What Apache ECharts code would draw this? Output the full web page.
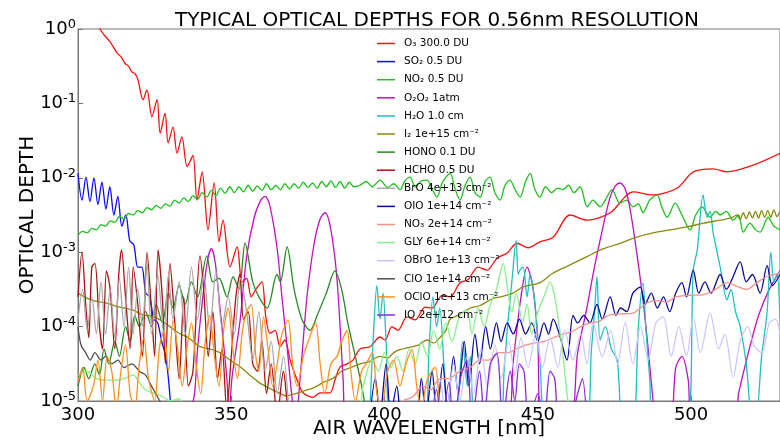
<!DOCTYPE html>
<html>
<head>
<meta charset="utf-8">
<script src="https://cdn.jsdelivr.net/npm/echarts@6/dist/echarts.min.js"></script>
<style>
html, body { margin: 0; background: #fff; }
#main { width: 780px; height: 440px; }
</style>
</head>
<body>
<div id="main"></div>
<script>
// values as [wavelength nm, log10 optical depth]
const o3 = [[306.0,0.1],[307.2,0.0],[308.5,-0.08],[310.4,-0.17],[311.5,-0.24],[312.7,-0.32],[314.0,-0.37],[315.3,-0.46],[316.5,-0.5],[317.6,-0.58],[318.6,-0.6],[319.6,-0.69],[321.2,-0.95],[322.5,-0.82],[324.1,-1.18],[325.8,-0.95],[326.8,-1.4],[328.4,-1.13],[329.4,-1.53],[331.0,-1.32],[332.3,-1.67],[333.9,-1.45],[335.6,-1.85],[337.5,-1.7],[338.8,-2.3],[340.5,-1.92],[342.4,-2.7],[344.4,-2.07],[346.0,-2.86],[347.3,-2.57],[349.6,-3.2],[351.9,-2.93],[353.5,-3.4],[355.0,-3.35],[356.5,-3.6],[358.0,-3.5],[360.0,-3.4],[361.2,-3.85],[362.6,-4.09],[364.3,-4.05],[365.9,-4.27],[367.5,-4.18],[369.2,-4.45],[371.5,-4.72],[373.4,-4.89],[376.7,-4.95],[379.0,-4.89],[382.2,-4.89],[383.8,-4.72],[385.5,-4.54],[387.8,-4.5],[389.7,-4.45],[392.0,-4.3],[395.3,-4.27],[398.5,-4.14],[400.2,-4.18],[402.4,-4.0],[404.4,-4.05],[407.3,-3.87],[410.0,-3.91],[413.2,-3.74],[415.5,-3.75],[418.8,-3.58],[421.4,-3.6],[424.6,-3.41],[427.2,-3.37],[430.5,-3.2],[433.4,-3.24],[436.7,-3.08],[440.0,-3.01],[443.2,-2.88],[446.8,-2.94],[450.7,-2.86],[455.0,-2.8],[460.5,-2.5],[466.1,-2.57],[473.6,-2.47],[481.1,-2.19],[487.6,-2.23],[495.4,-2.14],[500.7,-1.92],[507.2,-1.88],[511.7,-1.92],[520.2,-1.83],[529.0,-1.67]];
const so2 = [[300.0,-1.94],[301.3,-2.3],[302.6,-1.99],[303.9,-2.32],[305.2,-2.0],[306.5,-2.36],[307.8,-2.06],[309.1,-2.42],[310.4,-2.12],[311.7,-2.5],[313.0,-2.25],[314.3,-2.65],[315.6,-2.5],[316.9,-2.85],[318.2,-2.9],[319.5,-3.2],[320.8,-3.2],[322.1,-3.55],[323.4,-3.6],[324.7,-3.9],[326.0,-3.95],[327.3,-4.2],[328.6,-4.4],[329.5,-4.7],[330.3,-5.1]];
const no2 = [[300,-2.77],[301.5,-2.72],[303,-2.74],[304.5,-2.68],[306,-2.7],[307.5,-2.63],[309,-2.65],[310.5,-2.58],[312,-2.6],[313.5,-2.52],[315,-2.55],[316.5,-2.48],[318,-2.5],[319.5,-2.44],[321,-2.47],[322.5,-2.4],[324,-2.43],[325.5,-2.37],[327,-2.41],[328.5,-2.35],[330,-2.38],[331.5,-2.3],[333,-2.34],[334.5,-2.27],[336,-2.32],[337.5,-2.24],[339,-2.29],[340.5,-2.2],[342,-2.26],[343.5,-2.17],[345,-2.24],[346.5,-2.14],[348,-2.21],[349.5,-2.12],[351,-2.2],[352.5,-2.12],[354,-2.19],[355.5,-2.1],[357,-2.18],[358.5,-2.11],[360,-2.17],[361.5,-2.08],[363,-2.16],[364.5,-2.1],[366,-2.16],[367.5,-2.08],[369,-2.15],[370.5,-2.08],[372,-2.14],[373.5,-2.06],[375,-2.13],[376.5,-2.07],[378,-2.14],[379.5,-2.05],[381,-2.12],[382.5,-2.04],[384,-2.13],[385.5,-2.05],[387,-2.14],[388.5,-2.06],[390,-2.12],[392,-2.1],[394,-2.05],[396,-2.12],[398.5,-2.03],[401,-2.13],[403,-2.08],[405.1,-2.16],[406.5,-2.05],[408.3,-1.99],[410,-2.12],[412,-2.04],[413.9,-2.03],[415.5,-2.15],[417.1,-2.26],[419,-2.05],[421.4,-1.94],[423,-2.15],[424.6,-2.3],[426.3,-2.1],[427.9,-1.99],[429.5,-2.2],[431.2,-2.26],[432.8,-2.05],[434.4,-1.99],[436,-2.2],[437.7,-2.3],[439.3,-2.1],[440.9,-2.03],[442.5,-2.15],[444.2,-2.26],[446,-2.05],[447.5,-1.94],[449,-2.15],[450.7,-2.26],[452.5,-2.12],[454.5,-2.2],[456.5,-2.14],[458.2,-2.16],[460,-2.1],[461.8,-2.2],[463.8,-2.12],[466.1,-2.39],[468,-2.3],[470.3,-2.39],[472,-2.3],[474.2,-2.16],[476.8,-2.34],[479,-2.3],[481.1,-2.39],[482.8,-2.35],[484.3,-2.47],[486.5,-2.3],[488.9,-2.23],[490.5,-2.4],[492.2,-2.53],[494.8,-2.34],[497,-2.5],[499.7,-2.7],[501.5,-2.5],[503.6,-2.39],[506.2,-2.53],[508,-2.45],[509.5,-2.5],[511.5,-2.45],[513.7,-2.57],[515.5,-2.5],[517,-2.73],[519.2,-2.61],[521,-2.7],[522.5,-2.73],[525.1,-2.53],[527,-2.65],[529,-2.7]];
const o2o2 = [[336,-5.3],[338,-4.9],[339,-4.3],[341,-3.5],[342.3,-3.1],[343.5,-2.95],[344.8,-3.15],[346.3,-3.74],[348.6,-4.72],[349.3,-5.2],[350.2,-4.7],[352.9,-3.91],[355,-3.06],[357.5,-2.53],[359.5,-2.31],[361,-2.25],[362.5,-2.36],[364.9,-2.93],[366.5,-3.59],[368.2,-4.27],[369.8,-4.95],[371,-5.3],[372.4,-4.72],[374.7,-3.6],[377,-2.89],[379,-2.55],[380.6,-2.47],[382.5,-2.7],[384.5,-3.37],[386.5,-4.72],[387.5,-5.3],[439.5,-5.3],[442,-4.45],[444.5,-3.6],[446.5,-3.2],[448.5,-3.5],[450,-4.2],[451,-5.3],[460,-5.3],[463,-4.35],[466,-3.75],[468,-3.3],[470.3,-2.84],[473.5,-2.27],[475.3,-2.11],[476.8,-2.07],[478.5,-2.15],[480,-2.4],[481.7,-2.84],[484.3,-3.64],[486,-4.3],[487.6,-5.0],[488.5,-5.3],[493,-5.3],[495,-4.55],[497,-4.4],[499,-4.7],[500.5,-5.3],[514,-5.3],[515.5,-4.9],[519,-4.3],[522,-3.85],[525.5,-3.5],[529,-3.25]];
const h2o = [[395,-5.3],[396.5,-4.0],[397.5,-3.45],[398.5,-3.9],[399.5,-3.55],[400.5,-4.2],[402,-5.3],[413,-5.3],[414.5,-4.3],[415.8,-3.6],[417,-4.0],[418,-3.75],[419.5,-4.6],[421,-5.3],[423,-5.3],[425.5,-4.2],[427,-4.8],[428,-4.4],[430,-5.3],[437.5,-5.3],[439,-4.6],[440,-4.05],[441.6,-3.37],[442.9,-2.84],[443.6,-3.3],[444.2,-3.24],[445.2,-3.2],[446.5,-3.6],[447.5,-3.3],[448.5,-3.5],[449.5,-3.9],[450.7,-4.45],[453,-5.3],[465.5,-5.3],[467.5,-4.3],[468.5,-3.8],[469.3,-3.33],[470.3,-4.18],[472,-4.0],[474,-4.3],[475.9,-4.45],[477.8,-5.3],[481,-5.3],[482.8,-4.0],[484.3,-3.41],[485.2,-4.0],[486.5,-4.7],[487.5,-5.3],[498.7,-5.3],[500.7,-3.24],[502,-2.97],[503.9,-2.23],[505.2,-2.53],[506.2,-2.45],[507.2,-2.74],[509.5,-3.2],[511.7,-3.64],[513,-3.5],[514.5,-3.8],[516,-4.0],[518,-4.5],[520,-5.3],[521,-5.3],[523,-4.4],[524.8,-3.8],[526,-3.0],[527,-3.4],[528,-3.3],[529,-3.9]];
const i2 = [[300,-3.55],[303,-3.62],[306,-3.66],[309,-3.68],[312,-3.72],[315,-3.75],[318,-3.78],[321,-3.84],[324,-3.86],[326.8,-3.91],[330,-4.0],[333,-4.09],[336,-4.15],[339.8,-4.27],[343,-4.3],[346.3,-4.35],[349.5,-4.45],[352.9,-4.54],[356,-4.65],[359,-4.75],[362,-4.82],[365,-4.88],[368,-4.93],[371,-4.9],[374,-4.86],[377,-4.82],[380,-4.75],[383,-4.7],[386,-4.6],[389,-4.55],[392,-4.5],[395,-4.47],[398.5,-4.4],[401,-4.42],[403,-4.35],[405,-4.31],[408,-4.28],[411,-4.25],[413.9,-4.18],[416,-4.22],[418,-4.15],[420,-4.05],[421.4,-3.9],[424,-3.85],[428,-3.75],[431,-3.72],[435.4,-3.62],[438,-3.6],[441.9,-3.55],[445,-3.47],[450.7,-3.41],[455,-3.28],[460,-3.18],[466,-3.06],[471,-2.96],[476.8,-2.88],[482,-2.8],[487.6,-2.74],[493,-2.7],[498.7,-2.66],[504,-2.61],[509.5,-2.57],[513,-2.54],[515,-2.5],[516,-2.56],[517,-2.47],[518,-2.55],[519,-2.46],[520,-2.54],[521,-2.45],[522,-2.54],[523,-2.44],[524,-2.53],[525,-2.44],[526,-2.53],[527,-2.43],[528,-2.52],[529,-2.45]];
const hono = [[300,-4.8],[302,-4.55],[303.5,-4.7],[305.5,-4.5],[307,-4.65],[308.5,-4.3],[310,-4.5],[312,-4.2],[313.5,-4.4],[315.5,-4.0],[317,-4.2],[318.5,-3.85],[320,-4.0],[322,-3.8],[324,-4.0],[325.5,-3.7],[327.5,-3.95],[329.5,-3.55],[331,-3.75],[333,-3.45],[335,-3.7],[337,-3.4],[339,-3.6],[342,-3.05],[344,-3.4],[346,-3.35],[348.6,-3.6],[350.6,-3.33],[352.5,-3.5],[354.5,-2.88],[357,-3.4],[359,-3.6],[361.7,-3.75],[364.9,-3.3],[366,-3.4],[368.2,-2.93],[370.5,-3.5],[373,-3.9],[375.7,-4.05],[378,-3.85],[381,-3.55],[383.8,-3.25],[386,-3.5],[388,-3.95],[391,-4.5],[393,-4.9],[394.5,-5.3]];
const hcho = [[300,-3.6],[301.3,-3.0],[302.5,-3.7],[303.5,-4.15],[304.5,-3.2],[305.5,-3.15],[307,-4.0],[308,-4.3],[309.3,-3.25],[310.5,-3.5],[312,-4.3],[313.3,-3.3],[314.2,-2.97],[315.5,-3.6],[317,-4.3],[318,-3.2],[319.5,-3.7],[321,-4.4],[322.5,-3.0],[324,-3.8],[325,-4.4],[326.1,-2.97],[327.5,-3.6],[328.5,-4.5],[330,-3.15],[331.5,-3.9],[333,-4.7],[334.5,-3.6],[336,-4.8],[337.5,-4.6],[339.8,-3.05],[341,-3.5],[342.5,-4.4],[344,-3.8],[345.5,-4.7],[347,-4.3],[348.5,-5.1],[350,-4.4],[351.5,-3.6],[352.8,-3.3],[354,-3.9],[355.5,-3.8],[357,-4.5],[358.5,-4.6],[360,-4.2],[361.5,-4.9],[363,-4.5],[365,-5.2],[367,-4.6],[369,-5.2],[372,-5.3]];
const bro = [[300,-3.9],[301.5,-3.5],[303,-4.05],[304.5,-3.6],[306,-4.1],[307.5,-3.4],[309,-4.1],[310.5,-3.5],[312,-4.15],[313.5,-3.35],[315,-4.0],[316.5,-3.2],[318,-4.1],[319.5,-3.5],[321,-4.0],[322.5,-3.15],[324,-4.1],[326,-3.3],[328,-4.1],[329.5,-3.3],[331,-3.9],[333,-3.4],[335,-4.1],[337,-3.2],[339,-3.9],[341,-3.3],[343,-4.05],[345,-3.25],[347,-4.0],[349,-3.6],[351,-4.1],[353,-3.35],[355,-3.8],[357,-4.45],[359,-3.8],[361,-4.6],[363,-4.2],[365,-4.9],[367,-4.4],[369,-5.3]];
const oio = [[395,-5.3],[397,-4.7],[398.5,-5.2],[400.5,-4.5],[402,-5.2],[404,-4.8],[406,-5.3],[410,-5.3],[412,-4.7],[413.5,-5.2],[415.5,-4.6],[417,-5.2],[419,-4.5],[420.5,-5.1],[422.5,-4.4],[424,-4.9],[426,-4.2],[427.5,-4.8],[429.5,-4.1],[431,-4.5],[433,-4.0],[434.5,-4.3],[436.5,-3.95],[438,-4.2],[440,-3.95],[442,-4.1],[444,-3.9],[446,-4.1],[448,-3.95],[450,-4.2],[452,-3.95],[453.5,-4.1],[455,-3.9],[457,-4.1],[459.5,-4.45],[461.5,-3.85],[463,-3.95],[465,-3.85],[467,-3.95],[469.3,-3.7],[471,-3.9],[473.6,-3.6],[475.5,-3.85],[477,-3.75],[479,-3.8],[481,-3.55],[483.4,-3.47],[485,-3.7],[487,-3.55],[489,-3.75],[491,-3.6],[493,-3.8],[495,-3.55],[497,-3.41],[498.5,-3.6],[500.7,-3.24],[502.5,-3.55],[504.5,-3.4],[506.5,-3.55],[509.5,-3.3],[511.5,-3.5],[513.5,-3.35],[516,-3.13],[518,-3.4],[520,-3.3],[522.5,-3.55],[524.8,-3.18],[526.5,-3.45],[529,-3.3]];
const no3 = [[403,-5.3],[406,-5.0],[409,-4.95],[412.6,-4.8],[415,-4.85],[418,-4.7],[421,-4.7],[424.5,-4.6],[428,-4.55],[431,-4.45],[434,-4.45],[437,-4.35],[440,-4.35],[443,-4.3],[446,-4.25],[449,-4.22],[452,-4.2],[455,-4.15],[458,-4.1],[461,-4.07],[464,-4.0],[467,-3.95],[470,-3.93],[473,-3.85],[476.8,-3.83],[481,-3.82],[485.6,-3.68],[489,-3.65],[492,-3.67],[495,-3.6],[499,-3.58],[504,-3.57],[508,-3.5],[511.7,-3.41],[515,-3.46],[518,-3.5],[521.5,-3.41],[524.5,-3.33],[529,-3.28]];
const gly = [[300,-4.65],[303,-4.6],[306,-4.7],[309,-4.72],[312,-4.72],[315,-4.7],[318,-4.65],[320,-4.75],[322,-4.85],[325,-4.9],[328,-4.95],[330,-5.0],[333,-4.97],[336,-5.3],[390,-5.3],[393,-4.8],[396,-4.45],[398,-4.6],[400,-4.35],[402,-4.55],[404,-4.4],[406,-4.6],[408,-4.3],[410,-4.5],[412,-4.2],[414,-4.4],[416,-4.05],[418,-4.3],[420,-3.95],[422,-4.2],[424.5,-3.85],[426.9,-3.78],[428.5,-4.1],[430.5,-3.75],[432.5,-4.0],[434.5,-3.7],[436.5,-3.5],[438.7,-3.15],[440,-3.45],[441.5,-3.8],[443,-3.55],[445,-3.95],[446.5,-3.7],[448,-4.1],[450,-3.8],[452,-3.6],[454,-3.4],[455.5,-3.6],[457,-4.0],[458.5,-4.5],[459.5,-4.9],[461,-5.3]];
const obro = [[415,-5.3],[418,-4.7],[420,-5.2],[422.5,-4.5],[424.5,-5.0],[427,-4.4],[429,-4.9],[431.5,-4.3],[433.5,-4.8],[436,-4.25],[438,-4.7],[440.5,-4.2],[442.5,-4.65],[444.5,-4.15],[446.8,-4.55],[449.3,-4.1],[451.5,-4.55],[454,-4.15],[456.5,-4.55],[458.8,-4.05],[461.5,-4.45],[464,-4.1],[466,-4.5],[468,-3.95],[471,-4.4],[473.8,-4.05],[476,-4.5],[478.5,-3.95],[481,-4.5],[483.5,-4.0],[486,-4.45],[488.5,-3.95],[490.9,-3.87],[493.5,-4.4],[496,-4.0],[498.5,-4.4],[500.7,-3.87],[503,-4.35],[506.2,-3.82],[509,-4.3],[511,-4.1],[513.7,-4.68],[516,-4.2],[518.5,-4.0],[520.5,-4.25],[523,-4.35],[525.5,-3.95],[527.5,-3.9],[529,-4.1]];
const clo = [[300,-4.0],[301,-4.25],[302.5,-4.35],[304,-4.45],[305.5,-4.35],[307.5,-4.45],[309,-4.4],[311,-4.5],[313,-4.45],[315,-4.55],[317.6,-4.5],[320,-4.6],[322,-4.65],[324,-4.8],[326,-4.95],[328,-5.1]];
const oclo = [[300,-4.75],[301.5,-4.55],[303,-5.0],[305,-4.8],[306.5,-4.45],[308,-5.0],[309.5,-4.4],[311,-4.6],[312.5,-5.1],[314,-4.6],[315.5,-4.25],[317,-4.9],[318.5,-5.1],[320,-4.5],[321.5,-4.15],[323,-4.7],[325,-5.0],[326.5,-4.3],[328,-4.05],[329.5,-4.6],[331,-3.92],[332.5,-4.3],[334,-4.8],[335.5,-4.3],[337,-3.95],[338.5,-4.5],[340,-4.9],[341.5,-4.2],[343,-3.85],[344.5,-4.4],[346,-4.8],[347.5,-4.05],[349,-3.75],[350.5,-4.3],[352,-4.7],[353.5,-4.1],[355,-3.8],[356.5,-3.7],[358,-4.4],[359,-4.6],[360.5,-3.87],[362,-4.3],[363.5,-4.8],[365,-4.5],[366.5,-4.1],[368.5,-3.91],[370,-4.5],[371.5,-4.8],[373.5,-4.4],[375.5,-4.15],[377.5,-3.95],[379,-4.5],[380.5,-4.9],[382.5,-4.5],[384.5,-4.4],[386,-4.2],[387.8,-4.05],[389,-4.6],[390.5,-5.0],[392.5,-4.6],[394,-4.5],[396,-4.35],[397.5,-4.9],[399,-5.1],[401,-4.6],[403,-4.45],[405,-4.8],[407,-4.5],[409,-4.31],[410.5,-4.8],[412,-5.1],[414,-4.7],[416.5,-4.55],[418,-5.0],[420,-5.3]];
const io = [[415,-5.3],[417,-4.85],[418.5,-5.3],[421,-4.75],[422.5,-5.3],[425,-4.65],[426.9,-4.45],[428.5,-5.3],[431,-4.6],[432.5,-5.2],[434.5,-4.5],[436.7,-4.36],[438.5,-5.3],[441,-4.6],[442.5,-5.0],[444,-4.5],[445.5,-4.6],[447,-5.3],[450,-4.9],[452,-5.3],[454,-4.6],[455.5,-4.7],[457,-5.3],[460,-5.3],[463,-4.9],[464.5,-4.7],[466,-5.3]];

const gases = [o3, so2, no2, o2o2, h2o, i2, hono, hcho, bro, oio, no3, gly, obro, clo, oclo, io];
const gasNames = ['O₃ 300.0 DU', 'SO₂ 0.5 DU', 'NO₂ 0.5 DU', 'O₂O₂ 1atm', 'H₂O 1.0 cm',
  'I₂ 1e+15 cm⁻²', 'HONO 0.1 DU', 'HCHO 0.5 DU', 'BrO 4e+13 cm⁻²', 'OIO 1e+14 cm⁻²',
  'NO₃ 2e+14 cm⁻²', 'GLY 6e+14 cm⁻²', 'OBrO 1e+13 cm⁻²', 'ClO 1e+14 cm⁻²', 'OClO 1e+13 cm⁻²', 'IO 2e+12 cm⁻²'];
const gasColors = ['#ff1010', '#0a0aff', '#1ec01e', '#c010c0', '#20c0c0', '#8a8a10', '#228b22', '#b01010',
  '#a8a8a8', '#0a0a9a', '#f89088', '#88f088', '#c8c8ff', '#505050', '#ff9020', '#8a2be2'];

const FONT = 'DejaVu Sans';

var myChart = echarts.init(document.getElementById('main'));

var series = [];
for (var i = 0; i < gases.length; i++) {
    series.push({
        name: gasNames[i],
        type: 'line',
        symbol: 'none',
        smooth: 0.3,
        clip: true,
        lineStyle: { width: 1.3, color: gasColors[i] },
        itemStyle: { color: gasColors[i] },
        data: gases[i].map(function (p) { return [p[0], Math.pow(10, p[1])]; })
    });
}

var option = {
    animation: false,
    backgroundColor: '#fff',
    title: {
        text: 'TYPICAL OPTICAL DEPTHS FOR 0.56nm RESOLUTION',
        left: 432,
        textAlign: 'center',
        top: 6,
        textStyle: { fontFamily: FONT, fontSize: 20, fontWeight: 'normal', color: '#000' }
    },
    legend: {
        data: gasNames,
        orient: 'vertical',
        left: 372,
        top: 33,
        icon: 'rect',
        itemWidth: 18,
        itemHeight: 1.5,
        itemGap: 7.1,
        textStyle: { fontFamily: FONT, fontSize: 10.5, color: '#000', padding: [0, 0, 0, 4] }
    },
    grid: {
        left: 78, right: 0, top: 29, bottom: 39,
        outerBoundsMode: 'none',
        containLabel: false,
        show: true, borderColor: '#777', borderWidth: 1
    },
    xAxis: {
        type: 'value',
        min: 300,
        max: 529,
        interval: 50,
        name: 'AIR WAVELENGTH [nm]',
        nameLocation: 'middle',
        nameGap: 18,
        nameMoveOverlap: false,
        nameTextStyle: { fontFamily: FONT, fontSize: 20, color: '#000' },
        axisLine: { lineStyle: { color: '#777' } },
        axisTick: { inside: true, length: 5, lineStyle: { color: '#777' } },
        axisLabel: { fontFamily: FONT, fontSize: 18, color: '#000', margin: 5, showMaxLabel: false },
        splitLine: { show: false }
    },
    yAxis: {
        type: 'log',
        logBase: 10,
        min: 1e-5,
        max: 1,
        name: 'OPTICAL DEPTH',
        nameLocation: 'middle',
        nameGap: 40,
        nameMoveOverlap: false,
        nameTextStyle: { fontFamily: FONT, fontSize: 20, color: '#000' },
        axisLine: { show: true, lineStyle: { color: '#777' } },
        axisTick: { inside: true, length: 5, lineStyle: { color: '#777' } },
        axisLabel: {
            margin: 2,
            formatter: function (v) {
                var e = Math.round(Math.log10(v));
                return '{a|10}{b|' + e + '}';
            },
            rich: {
                a: { fontFamily: FONT, fontSize: 18, color: '#000' },
                b: { fontFamily: FONT, fontSize: 13, color: '#000', padding: [0, 0, 9, 0] }
            }
        },
        splitLine: { show: false }
    },
    series: series
};

myChart.setOption(option);
</script>
</body>
</html>
